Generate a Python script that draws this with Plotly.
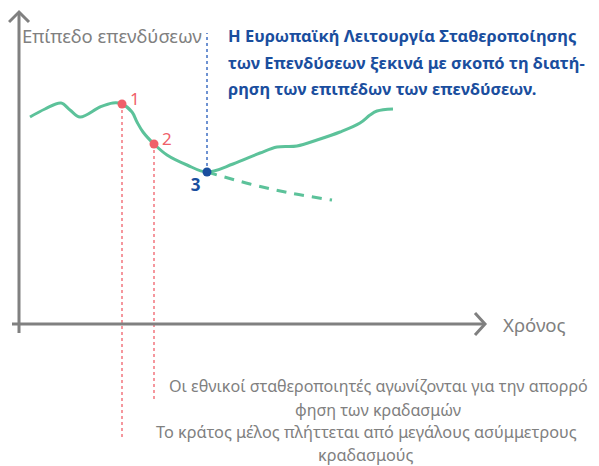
import plotly.graph_objects as go

# Schematic data (time units, investment level units)
time = [30, 45, 61, 70, 80, 100, 113, 122, 132, 137, 143, 154, 167, 187, 207,
        233, 260, 277, 297, 317, 340, 360, 370, 377, 393]
level = [349, 357, 363, 356, 349, 359, 363, 362, 354, 344, 334, 322, 311, 301, 294,
         302, 313, 319, 320, 326, 334, 343, 351, 355, 357]
proj_time = [207, 250, 290, 332]
proj_level = [294, 282, 273, 266]
shock_time = [122, 154]
shock_level = [362, 322]
shock_labels = ["1", "2"]
shock_drop = [26, 64]
esf_time = [207]
esf_level = [294]
esf_top = 433

y_label = "Επίπεδο επενδύσεων"
x_label = "Χρόνος"
blue_lines = ["Η Ευρωπαϊκή Λειτουργία Σταθεροποίησης",
              "των Επενδύσεων ξεκινά με σκοπό τη διατή-",
              "ρηση των επιπέδων των επενδύσεων."]
blue_line_level = [431, 404, 378]
text2_lines = ["Οι εθνικοί σταθεροποιητές αγωνίζονται για την απορρό", "φηση των κραδασμών"]
text2_level = [80, 56]
text1_lines = ["Το κράτος μέλος πλήττεται από μεγάλους ασύμμετρους", "κραδασμούς"]
text1_level = [34, 11]

GREEN = "#5cc29a"
RED = "#f0606a"
BLUE = "#1a4e9e"
BLUE_LINE = "#3f6fc4"
GREY = "#808080"
FONT = "Noto Sans"

fig = go.Figure()

# vertical guide lines
for t, lv, d in zip(shock_time, shock_level, shock_drop):
    fig.add_trace(go.Scatter(x=[t, t], y=[lv, d], mode="lines",
                             line=dict(color=RED, width=1.3, dash="3px,3px"),
                             hoverinfo="skip", showlegend=False))
fig.add_trace(go.Scatter(x=[esf_time[0], esf_time[0]], y=[esf_level[0], esf_top], mode="lines",
                         line=dict(color=BLUE_LINE, width=1.5, dash="3px,3px"),
                         hoverinfo="skip", showlegend=False))

# axes (schematic)
ax_x0, ax_y0 = 19, 142
fig.add_shape(type="line", x0=ax_x0, x1=ax_x0, y0=133, y1=454, line=dict(color=GREY, width=3))
fig.add_shape(type="path", path="M 9 444 L 19 454 L 29 444", line=dict(color=GREY, width=3))
fig.add_shape(type="line", x0=12, x1=485, y0=ax_y0, y1=ax_y0, line=dict(color=GREY, width=3))
fig.add_shape(type="path", path="M 475 153 L 485 142 L 475 131", line=dict(color=GREY, width=3))

# curves
fig.add_trace(go.Scatter(x=time, y=level, mode="lines",
                         line=dict(color=GREEN, width=3, shape="spline", smoothing=1.0),
                         hoverinfo="skip", showlegend=False))
fig.add_trace(go.Scatter(x=proj_time, y=proj_level, mode="lines",
                         line=dict(color=GREEN, width=3, dash="10px,8px", shape="spline"),
                         hoverinfo="skip", showlegend=False))

# points
fig.add_trace(go.Scatter(x=shock_time, y=shock_level, mode="markers",
                         marker=dict(color=RED, size=9),
                         hoverinfo="skip", showlegend=False))
fig.add_trace(go.Scatter(x=esf_time, y=esf_level, mode="markers+text",
                         marker=dict(color=BLUE, size=9),
                         text=["<b>3</b>"], textposition="bottom left",
                         textfont=dict(color=BLUE, size=17, family=FONT),
                         hoverinfo="skip", showlegend=False))
for t, lv, lab in zip(shock_time, shock_level, shock_labels):
    fig.add_annotation(x=t, y=lv, text=lab, showarrow=False, xanchor="left", yanchor="middle",
                       xshift=6, yshift=6, font=dict(color=RED, size=17, family=FONT))

# text labels
fig.add_annotation(x=20, y=431, text=y_label, showarrow=False, xanchor="left", yanchor="middle",
                   font=dict(color=GREY, size=18.5, family=FONT))
fig.add_annotation(x=501, y=142, text=x_label, showarrow=False, xanchor="left", yanchor="middle",
                   font=dict(color=GREY, size=18.6, family=FONT))
for txt, lv in zip(blue_lines, blue_line_level):
    fig.add_annotation(x=226, y=lv, text="<b>" + txt + "</b>", showarrow=False,
                       xanchor="left", yanchor="middle",
                       font=dict(color=BLUE, size=16.5, family=FONT))
for txt, lv in zip(text2_lines, text2_level):
    fig.add_annotation(x=378, y=lv, text=txt, showarrow=False, xanchor="center", yanchor="middle",
                       font=dict(color=GREY, size=16.1, family=FONT))
for txt, lv in zip(text1_lines, text1_level):
    fig.add_annotation(x=366, y=lv, text=txt, showarrow=False, xanchor="center", yanchor="middle",
                       font=dict(color=GREY, size=16.3, family=FONT))

# page body has an 8px margin: shrink figure and shift ranges so coordinates land on the window
fig.update_layout(width=591, height=458, margin=dict(l=0, r=0, t=0, b=0),
                  paper_bgcolor="white", plot_bgcolor="white",
                  xaxis=dict(range=[8, 599], visible=False, fixedrange=True),
                  yaxis=dict(range=[0, 458], visible=False, fixedrange=True),
                  showlegend=False)

fig.write_html("out.html")
